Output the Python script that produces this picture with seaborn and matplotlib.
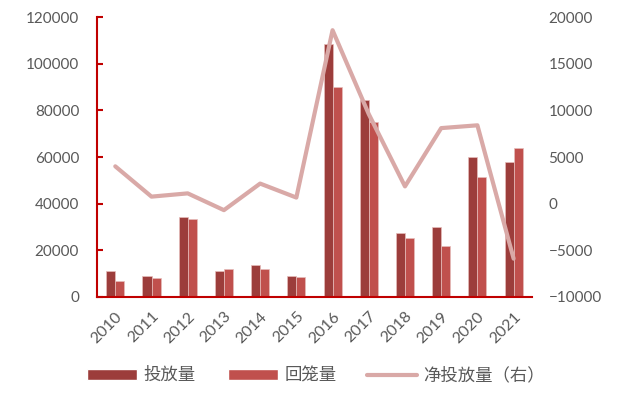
import numpy as np
import pandas as pd
import seaborn as sns
import matplotlib.pyplot as plt
from matplotlib.lines import Line2D
from matplotlib.patches import Patch

years = ['2010', '2011', '2012', '2013', '2014', '2015',
         '2016', '2017', '2018', '2019', '2020', '2021']
release = [10900, 9000, 34300, 11100, 13700, 9000,
           108400, 84400, 27300, 30000, 60000, 58000]
withdraw = [7000, 8300, 33300, 12000, 11900, 8400,
            90000, 75000, 25400, 22000, 51500, 64000]
net = [4000, 750, 1100, -700, 2150, 650,
       18600, 9600, 1850, 8100, 8400, -5900]
labels = ['投放量', '回笼量', '净投放量（右）']

c_dark = '#9C3D3B'
c_light = '#C0504D'
c_line = '#D9A9A7'
c_axis = '#C00000'
c_text = '#595959'

sns.set_style('white')
plt.rcParams['font.family'] = ['Lato', 'Noto Sans CJK SC', 'DejaVu Sans']

df = pd.DataFrame({'year': years * 2,
                   'value': release + withdraw,
                   'kind': [labels[0]] * 12 + [labels[1]] * 12})

fig = plt.figure(figsize=(6.19, 3.99), dpi=100)
ax = fig.add_axes([0.157, 0.256, 0.702, 0.701])

sns.barplot(data=df, x='year', y='value', hue='kind',
            palette=[c_dark, c_light], saturation=1, width=0.5, ax=ax,
            edgecolor='#E6BDBB', linewidth=0.5, legend=False)

ax2 = ax.twinx()
sns.lineplot(x=np.arange(len(years)), y=net, color=c_line, lw=3, ax=ax2)

ax.set_xlim(-0.5, 11.5)
ax.set_ylim(0, 120000)
ax.set_yticks(range(0, 120001, 20000))
ax2.set_ylim(-10000, 20000)
ax2.set_yticks(range(-10000, 20001, 5000))

ax.set_xlabel('')
ax.set_ylabel('')

for a in (ax, ax2):
    for s in a.spines.values():
        s.set_visible(False)
for side in ('left', 'bottom'):
    ax.spines[side].set_visible(True)
    ax.spines[side].set_color(c_axis)
    ax.spines[side].set_linewidth(1.5)

ax.set_xticks(np.arange(-0.5, 12, 1), minor=True)
ax.tick_params(axis='x', which='minor', direction='in', length=5,
               width=1.5, color=c_axis)
ax.set_xticks(range(len(years)))
ax.set_xticklabels(years, rotation=45, ha='right', rotation_mode='anchor')
ax.tick_params(axis='x', which='major', length=0, labelsize=11.5,
               labelcolor=c_text, pad=9)
ax.tick_params(axis='y', direction='in', length=4, width=1.5,
               color=c_axis, labelsize=11, labelcolor=c_text, pad=13)
ax2.tick_params(axis='y', length=0, labelsize=11, labelcolor=c_text, pad=12)

# legend items placed one by one, like the source chart
handles = [Patch(facecolor=c_dark), Patch(facecolor=c_light),
           Line2D([0], [0], color=c_line, lw=3)]
starts = [87, 228, 367]
for h, lab, x0 in zip(handles, labels, starts):
    fig.legend([h], [lab], loc='center left',
               bbox_to_anchor=(x0 / 619, 0.06), frameon=False,
               fontsize=12.5, labelcolor=c_text, handlelength=2.9,
               handleheight=0.6, handletextpad=0.35,
               borderpad=0, borderaxespad=0)

fig.savefig('out.png', dpi=100)
